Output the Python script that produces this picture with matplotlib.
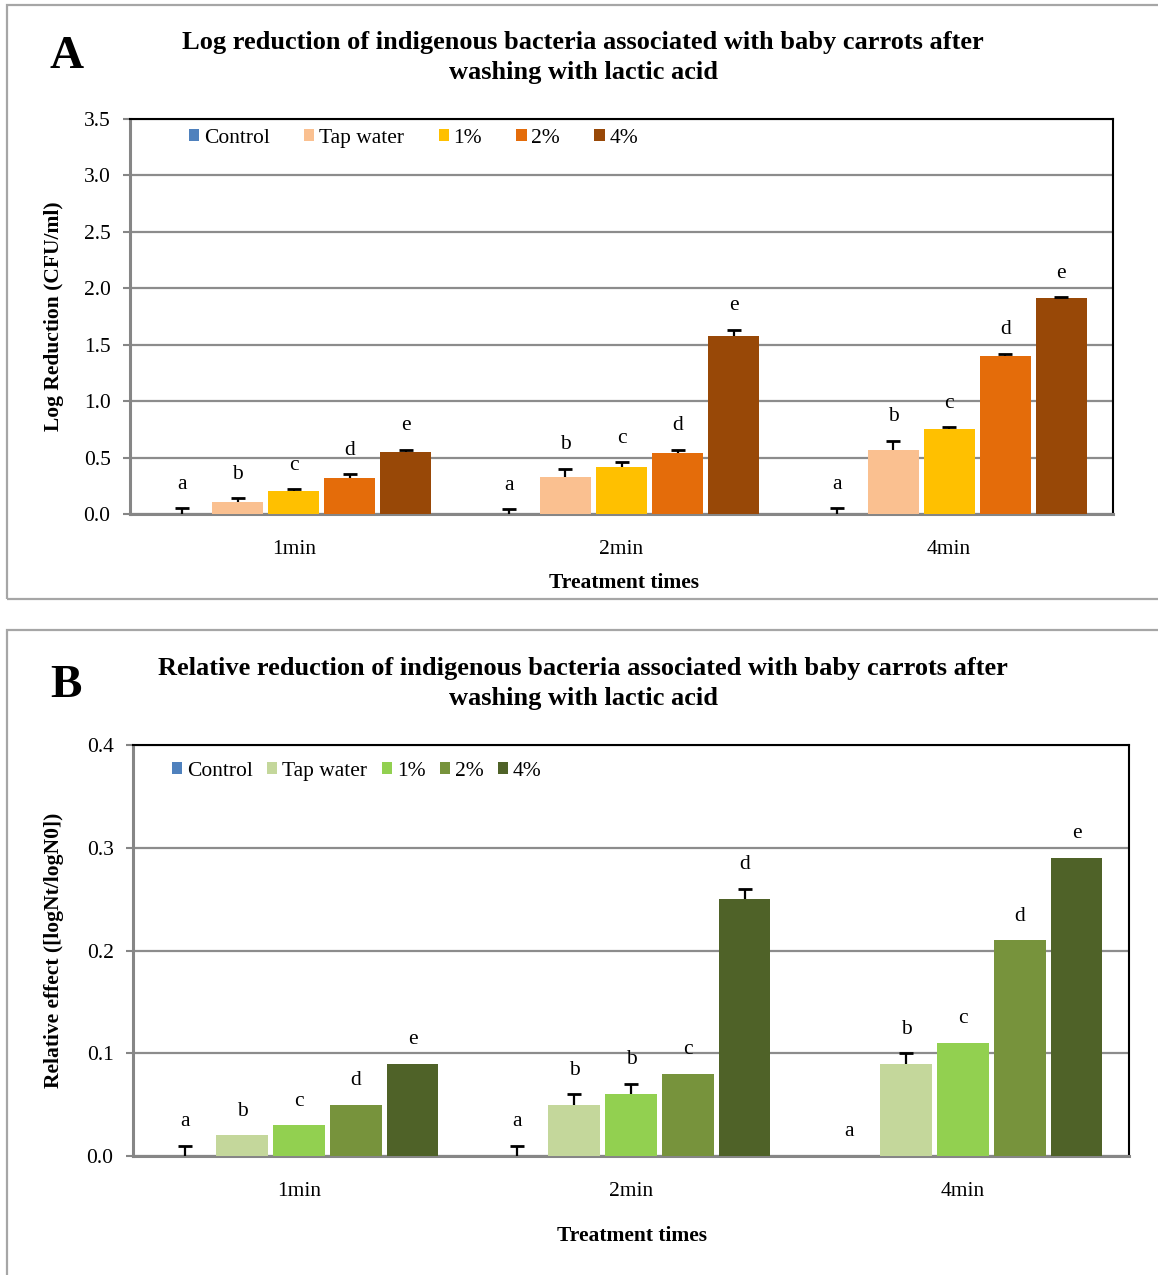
import matplotlib
matplotlib.use("Agg")
import matplotlib.pyplot as plt
from matplotlib.patches import Patch, Rectangle
import numpy as np

plt.rcParams['font.family'] = ['Liberation Serif', 'DejaVu Serif']

# ---------------- data ----------------
times = ["1min", "2min", "4min"]
series = ["Control", "Tap water", "1%", "2%", "4%"]

# Panel A: log reduction (CFU/ml)
logred_control = [0.00, 0.00, 0.00]
logred_tap = [0.11, 0.33, 0.57]
logred_1pct = [0.20, 0.42, 0.75]
logred_2pct = [0.32, 0.54, 1.40]
logred_4pct = [0.55, 1.58, 1.91]
logred_err_control = [0.05, 0.04, 0.05]
logred_err_tap = [0.03, 0.07, 0.08]
logred_err_1pct = [0.02, 0.04, 0.02]
logred_err_2pct = [0.03, 0.03, 0.02]
logred_err_4pct = [0.02, 0.05, 0.01]
letters_A = [["a", "b", "c", "d", "e"],
             ["a", "b", "c", "d", "e"],
             ["a", "b", "c", "d", "e"]]

# Panel B: relative effect
rel_control = [0.00, 0.00, 0.00]
rel_tap = [0.02, 0.05, 0.09]
rel_1pct = [0.03, 0.06, 0.11]
rel_2pct = [0.05, 0.08, 0.21]
rel_4pct = [0.09, 0.25, 0.29]
rel_err_control = [0.01, 0.01, 0.00]
rel_err_tap = [0.00, 0.01, 0.01]
rel_err_1pct = [0.00, 0.01, 0.00]
rel_err_2pct = [0.00, 0.00, 0.00]
rel_err_4pct = [0.00, 0.01, 0.00]
letters_B = [["a", "b", "c", "d", "e"],
             ["a", "b", "b", "c", "d"],
             ["a", "b", "c", "d", "e"]]

colors_A = ["#4F81BD", "#FAC090", "#FFC000", "#E46C0A", "#984807"]
colors_B = ["#4F81BD", "#C4D79B", "#92D050", "#77933C", "#4F6228"]

W, H = 1158, 1275
fig = plt.figure(figsize=(W / 100, H / 100), dpi=100)
FS = 15.5


def px_axes(l, t, r, b):
    return fig.add_axes([l / W, 1 - b / H, (r - l) / W, (b - t) / H])


def fx(x):
    return x / W


def fy(y):
    return 1 - y / H


# panel borders
for (l, t, r, b) in [(7, 5, 1170, 599), (7, 630, 1170, 1290)]:
    fig.patches.append(Rectangle((fx(l), fy(b)), fx(r - l), (b - t) / H,
                                 transform=fig.transFigure, fill=False,
                                 edgecolor="#A6A6A6", linewidth=1.6))


def draw_panel(ax, vals, errs, letters, colors, ymax, step, legend_spacing, leg_anchor):
    n = len(series)
    x = np.arange(len(times))
    stepw = 0.171
    width = 0.156
    for j in range(n):
        pos = x + (j - (n - 1) / 2) * stepw
        v = np.array(vals[j])
        e = np.array(errs[j])
        ax.bar(pos, v, width, color=colors[j], label=series[j], zorder=3,
               edgecolor="none")
        mask = e > 0
        if mask.any():
            _, caps, _ = ax.errorbar(pos[mask], v[mask],
                                     yerr=[np.zeros(mask.sum()), e[mask]],
                                     fmt="none", ecolor="black", elinewidth=1.6,
                                     capsize=5, capthick=2, zorder=4)
            caps[0].set_visible(False)
        for i in range(len(times)):
            ax.annotate(letters[i][j], (pos[i], v[i] + e[i]),
                        xytext=(0, 10.5), textcoords="offset points",
                        ha="center", va="bottom", fontsize=FS)
    ax.set_xlim(-0.5, len(times) - 0.5)
    ax.set_ylim(0, ymax)
    ax.set_yticks(np.arange(0, ymax + step / 2, step))
    ax.yaxis.set_major_formatter(matplotlib.ticker.FormatStrFormatter("%.1f"))
    ax.set_xticks(x)
    ax.set_xticklabels(times)
    ax.tick_params(axis="x", length=0, pad=19, labelsize=FS)
    ax.tick_params(axis="y", length=5, width=1.5, color="#868686", pad=9,
                   labelsize=FS)
    ax.grid(axis="y", color="#8C8C8C", linewidth=1.6, zorder=1)
    ax.set_axisbelow(True)
    for s in ["left", "bottom"]:
        ax.spines[s].set_color("#868686")
        ax.spines[s].set_linewidth(2.2)
    for s in ["top", "right"]:
        ax.spines[s].set_color("black")
        ax.spines[s].set_linewidth(1.5)
    handles = [Patch(facecolor=c, edgecolor="none") for c in colors]
    ax.legend(handles, series, loc="upper left", ncol=5, frameon=False,
              fontsize=FS, handlelength=0.47, handleheight=0.47,
              handletextpad=0.22, columnspacing=legend_spacing,
              bbox_to_anchor=leg_anchor, borderaxespad=0)


axA = px_axes(130, 119, 1113, 514)
draw_panel(axA,
           [logred_control, logred_tap, logred_1pct, logred_2pct, logred_4pct],
           [logred_err_control, logred_err_tap, logred_err_1pct, logred_err_2pct, logred_err_4pct],
           letters_A, colors_A, 3.5, 0.5, 1.6, (0.0513, 0.997))

axB = px_axes(133, 745, 1129, 1156)
draw_panel(axB,
           [rel_control, rel_tap, rel_1pct, rel_2pct, rel_4pct],
           [rel_err_control, rel_err_tap, rel_err_1pct, rel_err_2pct, rel_err_4pct],
           letters_B, colors_B, 0.4, 0.1, 0.68, (0.0305, 0.9805))

# titles and labels
fig.text(fx(67), fy(57), "A", fontsize=34, fontweight="bold", ha="center", va="center")
fig.text(fx(66), fy(686), "B", fontsize=34, fontweight="bold", ha="center", va="center")
title_kw = dict(fontsize=19, fontweight="bold", ha="center", va="center")
fig.text(fx(583), fy(42),
         "Log reduction of indigenous bacteria associated with baby carrots after", **title_kw)
fig.text(fx(583), fy(73), "washing with lactic acid", **title_kw)
fig.text(fx(583), fy(668),
         "Relative reduction of indigenous bacteria associated with baby carrots after", **title_kw)
fig.text(fx(583), fy(698), "washing with lactic acid", **title_kw)
fig.text(fx(624), fy(583), "Treatment times", fontsize=FS, fontweight="bold",
         ha="center", va="center")
fig.text(fx(632), fy(1236), "Treatment times", fontsize=FS, fontweight="bold",
         ha="center", va="center")
fig.text(fx(54), fy(316), "Log Reduction (CFU/ml)", fontsize=FS, fontweight="bold",
         ha="center", va="center", rotation=90)
fig.text(fx(54), fy(950), "Relative effect ([logNt/logN0])", fontsize=FS,
         fontweight="bold", ha="center", va="center", rotation=90)

fig.savefig("out.png", dpi=100)
